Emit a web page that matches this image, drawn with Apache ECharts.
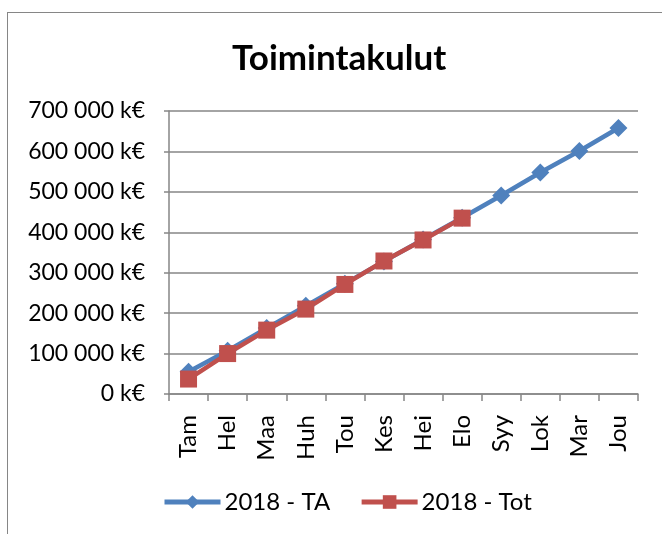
<!DOCTYPE html>
<html>
<head>
<meta charset="utf-8">
<script src="https://cdn.jsdelivr.net/npm/echarts@6/dist/echarts.min.js"></script>
<style>
  html, body { margin: 0; padding: 0; background: #fff; }
  #frame { position: absolute; left: 7px; top: 12px; width: 700px; height: 600px;
           border-left: 1.5px solid #868686; border-top: 1.5px solid #868686; }
  #main { position: absolute; left: 0; top: 0; width: 662px; height: 534px; }
</style>
</head>
<body>
<div id="frame"></div>
<div id="main"></div>
<script>
var months = ['Tam','Hel','Maa','Huh','Tou','Kes','Hei','Elo','Syy','Lok','Mar','Jou'];
var ta2018 = [55000, 107000, 163000, 218000, 273000, 328000, 382000, 436000, 491000, 548000, 601000, 658000];
var tot2018 = [37000, 100000, 158000, 210000, 271000, 329000, 381000, 435000];

(function(){
    var chart = echarts.init(document.getElementById('main'));
    var font = 'Lato, "Open Sans", sans-serif';

    var option = {
        animation: false,
        title: {
            text: 'Toimintakulut',
            left: 227,
            top: 36,
            textStyle: { fontFamily: font, fontSize: 35, fontWeight: 'bold', color: '#000' }
        },
        legend: {
            top: 485,
            left: 157,
            itemWidth: 56,
            itemHeight: 17,
            itemGap: 29,
            lineStyle: { width: 5 },
            textStyle: { fontFamily: font, fontSize: 24, color: '#000', padding: [0, 0, 0, -1] },
            data: ['2018 - TA', '2018 - Tot']
        },
        grid: { left: 169, right: 24, top: 111, bottom: 140 },
        xAxis: {
            type: 'category',
            data: months,
            boundaryGap: true,
            axisLine: { lineStyle: { color: '#868686', width: 1.5 } },
            axisTick: { show: true, length: 7, lineStyle: { color: '#868686', width: 1.5 } },
            axisLabel: { rotate: 90, margin: 21, fontFamily: font, fontSize: 24, color: '#000' }
        },
        yAxis: {
            type: 'value',
            min: 0,
            max: 700000,
            interval: 100000,
            axisLine: { show: true, lineStyle: { color: '#868686', width: 1.5 } },
            axisTick: { show: true, length: 5, lineStyle: { color: '#868686', width: 1.5 } },
            splitLine: { lineStyle: { color: '#868686', width: 1.5 } },
            axisLabel: {
                margin: 24,
                fontFamily: font,
                fontSize: 23,
                color: '#000',
                formatter: function (v) {
                    return String(v).replace(/\B(?=(\d{3})+(?!\d))/g, ' ') + ' k€';
                }
            }
        },
        series: [
            {
                name: '2018 - TA',
                type: 'line',
                data: ta2018,
                symbol: 'diamond',
                symbolSize: 18,
                itemStyle: { color: '#4F81BD' },
                lineStyle: { color: '#4F81BD', width: 4.5 }
            },
            {
                name: '2018 - Tot',
                type: 'line',
                data: tot2018,
                symbol: 'rect',
                symbolSize: 17,
                itemStyle: { color: '#C0504D' },
                lineStyle: { color: '#C0504D', width: 4.5 }
            }
        ]
    };

    chart.setOption(option);
})();
</script>
</body>
</html>
